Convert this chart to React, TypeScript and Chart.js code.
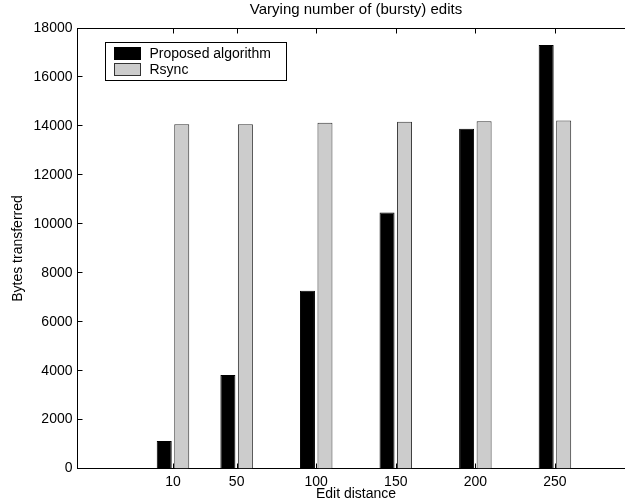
import React, { useEffect, useRef } from "react";
import { Chart, registerables } from "chart.js";

Chart.register(...registerables);

const chartTitle = "Varying number of (bursty) edits";
const xAxisTitle = "Edit distance";
const yAxisTitle = "Bytes transferred";
const seriesNames = ["Proposed algorithm", "Rsync"];
const editDistances = [10, 50, 100, 150, 200, 250];
const proposedBytes = [1120, 3830, 7270, 10470, 13900, 17330];
const rsyncBytes = [14080, 14080, 14140, 14190, 14210, 14240];
const yTickValues = [0, 2000, 4000, 6000, 8000, 10000, 12000, 14000, 16000, 18000];

const FONT_FAMILY = "'Liberation Sans', Arial, Helvetica, sans-serif";
const font = { family: FONT_FAMILY, size: 14 };
const seriesFill = ["#000000", "#cccccc"];
const seriesEdge = ["#000000", "#333333"];

const framePlugin = {
  id: "frame",
  beforeDatasetsDraw(chart: any) {
    const { ctx, chartArea } = chart;
    const { left, right, top, bottom } = chartArea;
    const xs = chart.scales.x;
    const ys = chart.scales.y;
    ctx.save();
    ctx.strokeStyle = "#000";
    ctx.lineWidth = 1;
    ctx.beginPath();
    const L = Math.round(left) - 0.5;
    const R = Math.round(right) - 0.5;
    const T = Math.round(top) - 0.5;
    const B = Math.round(bottom) - 0.5;
    for (const v of editDistances) {
      const px = Math.round(xs.getPixelForValue(v)) + 0.5;
      ctx.moveTo(px, B);
      ctx.lineTo(px, B - 5);
      ctx.moveTo(px, T);
      ctx.lineTo(px, T + 5);
    }
    for (const v of yTickValues) {
      const py = Math.round(ys.getPixelForValue(v)) - 0.5;
      ctx.moveTo(L, py);
      ctx.lineTo(L + 5, py);
    }
    ctx.stroke();
    ctx.beginPath();
    ctx.moveTo(L, T);
    ctx.lineTo(R, T);
    ctx.stroke();
    ctx.restore();
  },
};

const boxLegendPlugin = {
  id: "boxLegend",
  afterDraw(chart: any) {
    const { ctx, chartArea } = chart;
    const bx = Math.round(chartArea.left + 27.5) + 0.5;
    const by = Math.round(chartArea.top + 13.5) + 0.5;
    const w = 181;
    const h = 38;
    ctx.save();
    ctx.fillStyle = "#fff";
    ctx.fillRect(bx, by, w, h);
    ctx.strokeStyle = "#000";
    ctx.lineWidth = 1;
    ctx.strokeRect(bx, by, w, h);
    chart.data.datasets.forEach((ds: any, i: number) => {
      const sy = by + 5 + i * 16;
      ctx.fillStyle = ds.borderColor;
      ctx.fillRect(bx + 8.5, sy - 0.5, 27, 13);
      ctx.fillStyle = ds.backgroundColor;
      ctx.fillRect(bx + 9.5, sy + 0.5, 25, 11);
      ctx.fillStyle = "#000";
      ctx.font = `14px ${FONT_FAMILY}`;
      ctx.textBaseline = "middle";
      ctx.textAlign = "left";
      ctx.fillText(ds.label, bx + 44, sy + 6.5);
    });
    ctx.restore();
  },
};

export default function App() {
  const canvasRef = useRef<HTMLCanvasElement | null>(null);

  useEffect(() => {
    if (!canvasRef.current) return;
    const seriesValues = [proposedBytes, rsyncBytes];
    const chart = new Chart(canvasRef.current, {
      type: "bar",
      data: {
        datasets: seriesNames.map((name, i) => ({
          label: name,
          data: editDistances.map((x, j) => ({ x, y: seriesValues[i][j] })),
          backgroundColor: seriesFill[i],
          borderColor: seriesEdge[i],
          borderWidth: 1,
          borderSkipped: "bottom",
          categoryPercentage: 0.55,
          barPercentage: 0.857,
        })),
      },
      options: {
        animation: false,
        responsive: false,
        layout: { padding: { left: 0, right: 45.5, top: 0, bottom: 0 } },
        plugins: {
          legend: { display: false },
          tooltip: { enabled: false },
          title: {
            display: true,
            text: chartTitle,
            color: "#000",
            font: { family: FONT_FAMILY, size: 15, weight: "normal", lineHeight: 1.2 },
            fullSize: false,
            padding: { top: 1, bottom: 9.5 },
          },
        },
        scales: {
          x: {
            type: "linear",
            min: -50,
            max: 300,
            offset: false,
            afterBuildTicks: (s: any) => {
              s.ticks = editDistances.map((v) => ({ value: v }));
            },
            afterFit: (s: any) => {
              s.height = 34.5;
            },
            grid: { display: false, drawTicks: false, offset: false },
            border: { display: true, color: "#000", width: 1 },
            ticks: {
              color: "#000",
              font,
              padding: 5,
              maxRotation: 0,
              autoSkip: false,
              callback: (v: any) => String(v),
            },
            title: {
              display: true,
              text: xAxisTitle,
              color: "#000",
              font,
              padding: { top: 0, bottom: 0 },
            },
          },
          y: {
            type: "linear",
            min: 0,
            max: 18000,
            afterBuildTicks: (s: any) => {
              s.ticks = yTickValues.map((v) => ({ value: v }));
            },
            afterFit: (s: any) => {
              s.width = 77.5;
            },
            grid: { display: false, drawTicks: false },
            border: { display: true, color: "#000", width: 1 },
            ticks: {
              color: "#000",
              font,
              padding: 5,
              callback: (v: any) => String(v),
            },
            title: {
              display: true,
              text: yAxisTitle,
              color: "#000",
              font,
              padding: { top: 10, bottom: 0 },
            },
          },
        },
      },
      plugins: [framePlugin, boxLegendPlugin],
    } as any);
    return () => chart.destroy();
  }, []);

  return (
    <div
      style={{
        position: "fixed",
        left: 0,
        top: 0,
        width: 625,
        height: 503,
        overflow: "hidden",
        background: "#fff",
      }}
    >
      <canvas ref={canvasRef} width={680} height={503} style={{ display: "block" }} />
    </div>
  );
}
